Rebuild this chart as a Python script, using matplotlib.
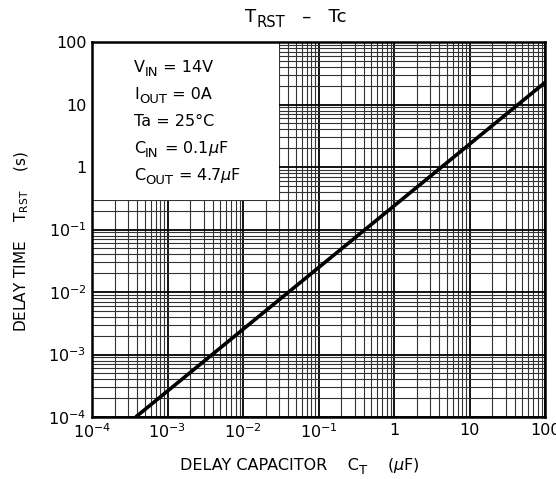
import matplotlib
matplotlib.use("Agg")
import matplotlib.pyplot as plt
from matplotlib.patches import Rectangle
from matplotlib.ticker import FixedLocator, LogLocator, NullFormatter
from matplotlib.transforms import offset_copy

# delay time vs delay capacitor
ct_uF = [3.8e-4, 100]
trst_s = [1e-4, 22.5]

x_ticks = [1e-4, 1e-3, 1e-2, 1e-1, 1, 10, 100]
x_labels = [r'$10^{-4}$', r'$10^{-3}$', r'$10^{-2}$', r'$10^{-1}$', '1', '10', '100']
y_ticks = [1e-4, 1e-3, 1e-2, 1e-1, 1, 10, 100]
y_labels = [r'$10^{-4}$', r'$10^{-3}$', r'$10^{-2}$', r'$10^{-1}$', '1', '10', '100']

# (text, is_subscript) pieces
conditions = [[('V', 0), ('IN', 1), (' = 14V', 0)],
              [('I', 0), ('OUT', 1), (' = 0A', 0)],
              [('Ta = 25°C', 0)],
              [('C', 0), ('IN', 1), (r' = 0.1$\mathit{\mu}$F', 0)],
              [('C', 0), ('OUT', 1), (r' = 4.7$\mathit{\mu}$F', 0)]]
title_parts = [('T', 0), ('RST', 1), ('   –   Tc', 0)]
xlabel_parts = [('DELAY CAPACITOR    C', 0), ('T', 1), (r'    ($\mathit{\mu}$F)', 0)]

plt.rcParams['font.family'] = ['DejaVu Sans']
plt.rcParams['mathtext.fontset'] = 'dejavusans'

fig = plt.figure(figsize=(5.56, 4.79), dpi=100)
ax = fig.add_axes([92/556, 1-417/479, (545-92)/556, (417-42)/479])
renderer = fig.canvas.get_renderer()


def rich(x, y, parts, size, trans, ha='left', zorder=4):
    # draw text pieces side by side, subscripts a bit smaller and lowered
    texts = []
    widths = []
    for s, sub in parts:
        fs = size * 0.82 if sub else size
        t = fig.text(0, 0, s, fontsize=fs, transform=trans, va='baseline', ha='left', zorder=zorder)
        widths.append(t.get_window_extent(renderer).width * 72 / fig.dpi)
        texts.append((t, sub))
    total = sum(widths)
    dx = -total / 2 if ha == 'center' else 0
    for (t, sub), w in zip(texts, widths):
        dy = -size * 0.28 if sub else 0
        t.set_position((x, y))
        t.set_transform(offset_copy(trans, fig=fig, x=dx, y=dy, units='points'))
        dx += w


ax.plot(ct_uF, trst_s, color='black', lw=2.6, zorder=5, solid_capstyle='butt')

ax.set_xscale('log')
ax.set_yscale('log')
ax.set_xlim(1e-4, 100)
ax.set_ylim(1e-4, 100)

ax.xaxis.set_major_locator(FixedLocator(x_ticks))
ax.set_xticklabels(x_labels)
ax.yaxis.set_major_locator(FixedLocator(y_ticks))
ax.set_yticklabels(y_labels)
ax.xaxis.set_minor_locator(LogLocator(base=10, subs=range(2, 10), numticks=20))
ax.yaxis.set_minor_locator(LogLocator(base=10, subs=range(2, 10), numticks=20))
ax.xaxis.set_minor_formatter(NullFormatter())
ax.yaxis.set_minor_formatter(NullFormatter())
ax.tick_params(which='both', length=0, labelsize=11.5, pad=4)

ax.grid(which='major', color='black', lw=1.3, zorder=1)
ax.grid(which='minor', color='#333333', lw=0.8, zorder=1)
ax.set_axisbelow(True)

for s in ax.spines.values():
    s.set_linewidth(1.8)
    s.set_zorder(6)

# white panel holding the test conditions
ax.add_patch(Rectangle((1e-4, 0.3), 0.03 - 1e-4, 100 - 0.3, facecolor='white',
                       edgecolor='none', zorder=3))
for i, parts in enumerate(conditions):
    yy = 1 - (72 + i * 27) / 479
    rich(134/556, yy, parts, 11.5, fig.transFigure)

rich(296/556, 1-22/479, title_parts, 13, fig.transFigure, ha='center')
rich(300/556, 1-470/479, xlabel_parts, 11.5, fig.transFigure, ha='center')
fig.text(22/556, 1-242/479, r'DELAY TIME    $\mathregular{T_{RST}}$    (s)', fontsize=11,
         ha='center', va='center', rotation=90)

fig.savefig('out.png', dpi=100)
